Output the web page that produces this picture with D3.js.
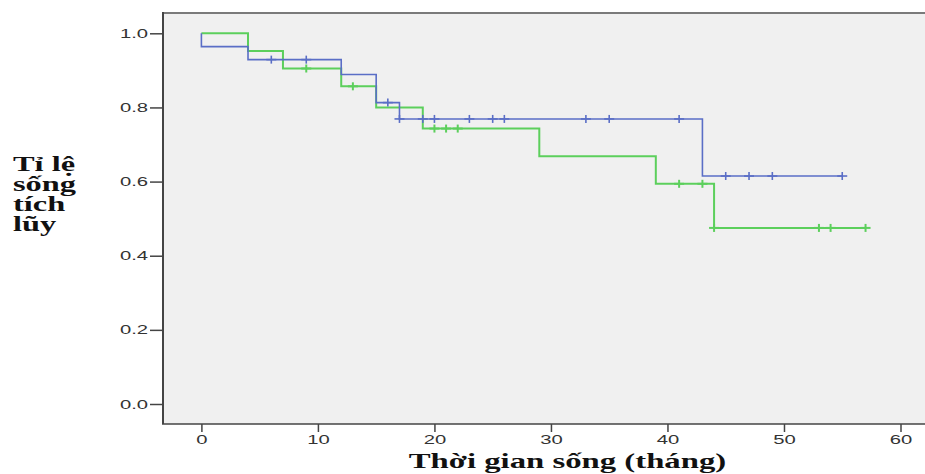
<!DOCTYPE html>
<html>
<head>
<meta charset="utf-8">
<script src="https://cdn.jsdelivr.net/npm/d3@7"></script>
<style>
  body { margin: 0; background: #fff; }
  svg { display: block; }
</style>
</head>
<body>
<svg id="km"></svg>
<script>
// Kaplan-Meier steps
const blueEvents = [0, 4, 12, 15, 17, 43];
const blueSurv = [0.964, 0.929, 0.889, 0.813, 0.769, 0.615];
const blueCensor = [6, 9, 16, 17, 19, 20, 23, 25, 26, 33, 35, 41, 45, 47, 49, 55];

const greenEvents = [4, 7, 12, 15, 19, 29, 39, 44];
const greenSurv = [0.952, 0.905, 0.857, 0.8, 0.743, 0.668, 0.594, 0.475];
const greenCensor = [9, 13, 20, 21, 22, 41, 43, 44, 53, 54, 57];

const xTicks = [0, 10, 20, 30, 40, 50, 60];
const yTicks = [0, 0.2, 0.4, 0.6, 0.8, 1.0];
const xTitle = "Thời gian sống (tháng)";
const yTitle = ["Tỉ lệ", "sống", "tích", "lũy"];

const width = 925, height = 474;
const sx = 1.62; // the source image is stretched sideways
const frame = { left: 163, top: 13, bottom: 424 };

let svg = d3.select("#km").attr("width", width).attr("height", height);

let x = d3.scaleLinear().domain([0, 60]).range([201.4, 900.5]);
let y = d3.scaleLinear().domain([0, 1]).range([404, 33.3]);

// plot background + frame
svg.append("rect")
  .attr("x", frame.left).attr("y", frame.top)
  .attr("width", width - frame.left + 5).attr("height", frame.bottom - frame.top)
  .attr("fill", "#f0f0f0");
svg.append("line")
  .attr("x1", frame.left).attr("x2", width + 5)
  .attr("y1", frame.top).attr("y2", frame.top)
  .attr("stroke", "#7a7a7a").attr("stroke-width", 2);

// axes
let yAxis = svg.append("g")
  .attr("transform", "translate(" + frame.left + ",0)")
  .call(d3.axisLeft(y).tickValues(yTicks).tickFormat(d3.format(".1f")).tickSize(13).tickPadding(2));
let xAxis = svg.append("g")
  .attr("transform", "translate(0," + frame.bottom + ")")
  .call(d3.axisBottom(x).tickValues(xTicks).tickSize(8).tickPadding(3));

[yAxis, xAxis].forEach((a) => {
  a.select(".domain").remove();
  a.selectAll(".tick line").attr("stroke", "#444").attr("stroke-width", 1.5);
  a.selectAll(".tick text")
    .attr("fill", "#333")
    .style("font-family", "'Liberation Sans', Arial, sans-serif")
    .style("font-size", "12.5px")
    .attr("transform", "scale(" + sx + ",1)");
});
yAxis.selectAll(".tick text").attr("x", -15 / sx);

svg.append("line")
  .attr("x1", frame.left).attr("x2", frame.left)
  .attr("y1", frame.top - 1).attr("y2", frame.bottom)
  .attr("stroke", "#444").attr("stroke-width", 2);
svg.append("line")
  .attr("x1", frame.left - 1).attr("x2", width + 5)
  .attr("y1", frame.bottom).attr("y2", frame.bottom)
  .attr("stroke", "#444").attr("stroke-width", 1.5);

// curves
function survAt(events, surv, t) {
  let s = 1;
  events.forEach((e, i) => { if (e <= t) s = surv[i]; });
  return s;
}

function drawCurve(events, surv, censor, color, lw) {
  let pts = [[0, 1]];
  events.forEach((e, i) => pts.push([e, surv[i]]));
  let end = d3.max(censor.concat(events));
  pts.push([end, surv[surv.length - 1]]);

  let line = d3.line()
    .x((d) => x(d[0]))
    .y((d) => y(d[1]))
    .curve(d3.curveStepAfter);

  svg.append("path")
    .datum(pts)
    .attr("d", line)
    .attr("fill", "none")
    .attr("stroke", color)
    .attr("stroke-width", lw);

  let marks = svg.append("g").attr("stroke", color).attr("stroke-width", lw);
  censor.forEach((t) => {
    let cx = x(t), cy = y(survAt(events, surv, t));
    marks.append("line").attr("x1", cx).attr("x2", cx).attr("y1", cy - 4).attr("y2", cy + 4);
    marks.append("line").attr("x1", cx - 5).attr("x2", cx + 5).attr("y1", cy).attr("y2", cy);
  });
}

drawCurve(greenEvents, greenSurv, greenCensor, "#5ccf5c", 2);
drawCurve(blueEvents, blueSurv, blueCensor, "#5a6ec6", 1.6);

// titles
const tsx = 1.56;
svg.append("text")
  .attr("x", 567.5 / tsx).attr("y", 468.5)
  .attr("text-anchor", "middle")
  .attr("transform", "scale(" + tsx + ",1)")
  .style("font-family", "'Liberation Serif', 'Times New Roman', serif")
  .style("font-weight", "bold")
  .style("font-size", "21px")
  .attr("fill", "#111")
  .text(xTitle);

let yt = svg.append("text")
  .attr("transform", "scale(" + sx + ",1)")
  .style("font-family", "'Liberation Serif', 'Times New Roman', serif")
  .style("font-weight", "bold")
  .style("font-size", "20px")
  .attr("fill", "#111");
yTitle.forEach((s, i) => {
  yt.append("tspan").attr("x", 13 / sx).attr("y", 171.5 + i * 19.8).text(s);
});
</script>
</body>
</html>
